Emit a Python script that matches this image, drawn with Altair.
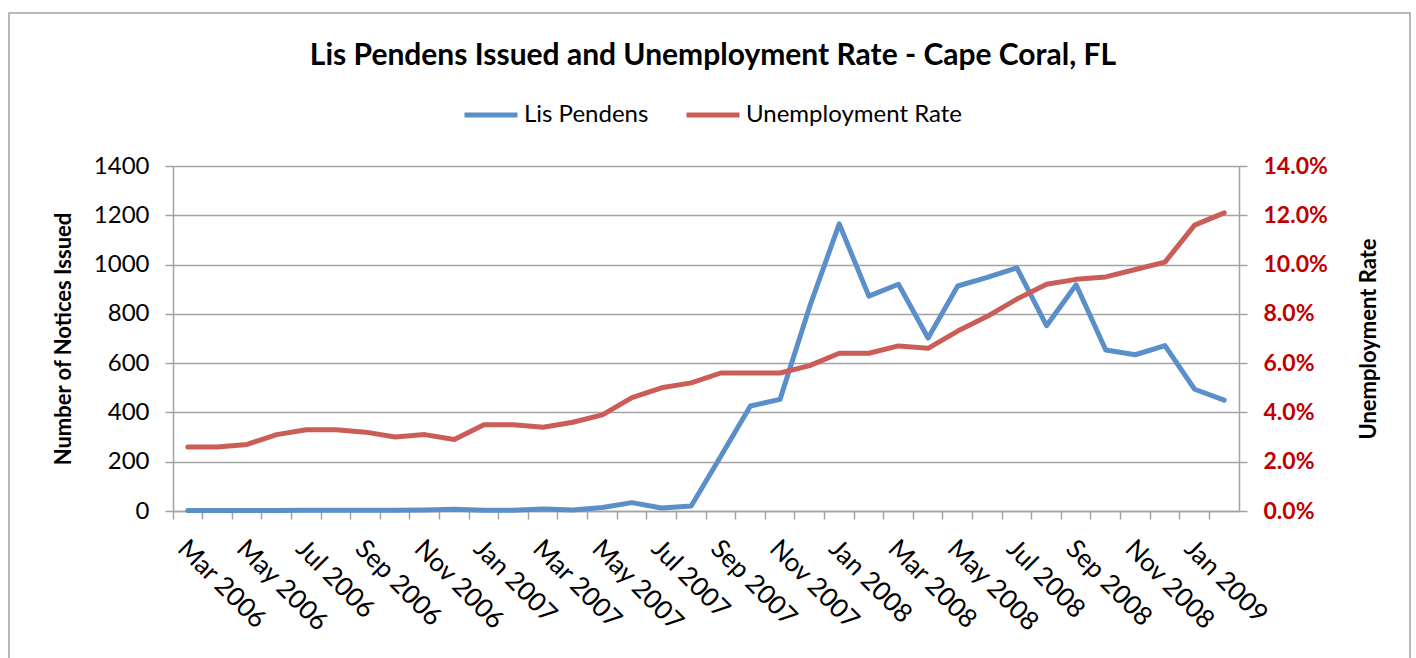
import altair as alt
import pandas as pd

months = list(pd.date_range("2006-03-01", periods=36, freq="MS").strftime("%b %Y"))

lis_pendens = [2, 2, 2, 2, 3, 3, 3, 3, 4, 7, 3, 3, 8, 4, 14, 34, 12, 20,
               222, 426, 453, 829, 1165, 872, 920, 702, 913, 948, 987, 752,
               918, 653, 634, 671, 494, 450]

unemployment = [2.6, 2.6, 2.7, 3.1, 3.3, 3.3, 3.2, 3.0, 3.1, 2.9, 3.5, 3.5,
                3.4, 3.6, 3.9, 4.6, 5.0, 5.2, 5.6, 5.6, 5.6, 5.9, 6.4, 6.4,
                6.7, 6.6, 7.3, 7.9, 8.6, 9.2, 9.4, 9.5, 9.8, 10.1, 11.6, 12.1]

series_names = ["Lis Pendens", "Unemployment Rate"]
series_colors = ["#5B8FC9", "#CB5D58"]
left_ticks = [0, 200, 400, 600, 800, 1000, 1200, 1400]
right_ticks = [0, 2, 4, 6, 8, 10, 12, 14]
title_text = "Lis Pendens Issued and Unemployment Rate - Cape Coral, FL"

df = pd.DataFrame({
    "month": months * 2,
    "series": [series_names[0]] * 36 + [series_names[1]] * 36,
    "value": lis_pendens + unemployment,
})

FONT = "Lato"
GRAY = "#A3A3A3"

x_enc = alt.X(
    "month:O", sort=months, title=None,
    scale=alt.Scale(type="band", paddingInner=0, paddingOuter=0),
    axis=alt.Axis(
        bandPosition=0, labelAngle=45, labelAlign="left", labelBaseline="middle",
        labelOffset=-6, labelPadding=25, labelOverlap=False, labelFlush=False,
        labelFont=FONT, labelFontSize=26, labelColor="black", labelLimit=300,
        labelExpr="indexof(['Mar','May','Jul','Sep','Nov','Jan'], substring(datum.value,0,3)) >= 0 ? datum.value : ''",
        tickColor=GRAY, tickSize=8, tickWidth=1.5, domainColor=GRAY, domainWidth=1.5,
        grid=False,
    ),
)

color_enc = alt.Color(
    "series:N",
    scale=alt.Scale(domain=series_names, range=series_colors),
    legend=alt.Legend(
        title=None, orient="none", direction="horizontal", legendX=289, legendY=-80,
        symbolType="stroke", symbolSize=2809, symbolStrokeWidth=5,
        labelFont=FONT, labelFontSize=24, labelColor="black", labelLimit=400,
        labelOffset=4, columnPadding=27,
    ),
)

base = alt.Chart(df)

left = base.transform_filter(alt.datum.series == series_names[0]).mark_line(
    strokeWidth=5, strokeJoin="round", strokeCap="round"
).encode(
    x=x_enc,
    y=alt.Y(
        "value:Q", scale=alt.Scale(domain=[0, 1400], nice=False),
        axis=alt.Axis(
            values=left_ticks, format="d", title="Number of Notices Issued", titleFont=FONT,
            titleFontSize=22, titleFontWeight="bold", titleColor="black", titlePadding=18,
            labelFont=FONT, labelFontSize=24, labelColor="black", labelPadding=16,
            tickColor=GRAY, tickSize=8, tickWidth=1.5, domainColor=GRAY, domainWidth=1.5,
            grid=True, gridColor=GRAY, gridWidth=1.5,
        ),
    ),
    color=color_enc,
)

right = base.transform_filter(alt.datum.series == series_names[1]).mark_line(
    strokeWidth=5, strokeJoin="round", strokeCap="round"
).encode(
    x=x_enc,
    y=alt.Y(
        "value:Q", scale=alt.Scale(domain=[0, 14], nice=False),
        axis=alt.Axis(
            orient="right", values=right_ticks, title="Unemployment Rate",
            titleFont=FONT, titleFontSize=22, titleFontWeight="bold", titleColor="black",
            titleAngle=270, titleBaseline="bottom", titlePadding=53,
            labelExpr="format(datum.value, '.1f') + '%'",
            labelFont=FONT, labelFontSize=23, labelFontWeight="bold", labelColor="#C00000",
            labelPadding=16, tickColor=GRAY, tickSize=8, tickWidth=1.5,
            domainColor=GRAY, domainWidth=1.5, grid=False,
        ),
    ),
    color=color_enc,
)

title = alt.Chart(pd.DataFrame({"t": [title_text]})).mark_text(
    font=FONT, fontSize=30, fontWeight="bold", color="black",
    align="center", baseline="alphabetic",
).encode(text="t:N", x=alt.value(540), y=alt.value(-101))

frame = alt.Chart(pd.DataFrame({"f": [0]})).mark_rect(
    fillOpacity=0, stroke=GRAY, strokeWidth=1.5
).encode(x=alt.value(-164), x2=alt.value(1237), y=alt.value(-153), y2=alt.value(540))

chart = alt.layer(frame, left, right, title).resolve_scale(y="independent").properties(
    width=1066, height=345,
    autosize=alt.AutoSizeParams(type="none"),
    padding={"left": 173, "top": 166, "right": 177, "bottom": 147},
    background="white",
).configure_view(stroke=None)

chart.save("out.html", embed_options={"renderer": "svg", "actions": False})
